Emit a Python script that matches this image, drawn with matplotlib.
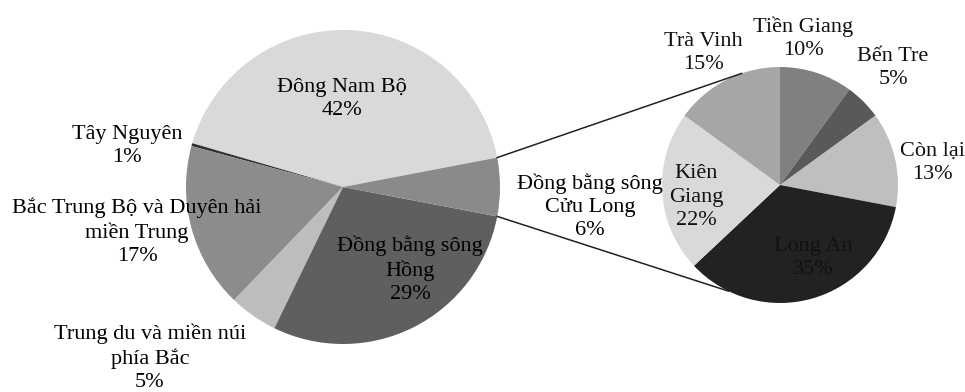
import matplotlib.pyplot as plt
import numpy as np

plt.rcParams['font.family'] = ['Liberation Serif', 'DejaVu Serif']

# Main pie: regions (counterclockwise from the split-out slice)
regions = ["Đông Nam Bộ", "Tây Nguyên", "Bắc Trung Bộ và Duyên hải\nmiền Trung",
           "Trung du và miền núi\nphía Bắc", "Đồng bằng sông\nHồng", "Đồng bằng sông\nCửu Long"]
region_share = [42.5, 0.3, 17.0, 5.0, 29.2, 6.0]
region_pct = [42, 1, 17, 5, 29, 6]
region_colors = ["#d9d9d9", "#303030", "#8c8c8c", "#bdbdbd", "#5f5f5f", "#8a8a8a"]

# Secondary pie: provinces of Đồng bằng sông Cửu Long (clockwise from top)
provinces = ["Tiền Giang", "Bến Tre", "Còn lại", "Long An", "Kiên\nGiang", "Trà Vinh"]
province_share = [10, 5, 13, 35, 22, 15]
province_colors = ["#808080", "#595959", "#bfbfbf", "#222222", "#d9d9d9", "#a6a6a6"]

W, H = 965, 392
fig = plt.figure(figsize=(W / 100, H / 100), dpi=100)
ax = fig.add_axes([0, 0, 1, 1])

# pixel-like coordinates, y measured upward
c1, r1 = (343, H - 187), 157
c2, r2 = (780, H - 185), 118

start1 = region_share[-1] / 100 * 360 / 2
w1, _ = ax.pie(region_share, colors=region_colors, startangle=start1, counterclock=True,
               center=c1, radius=r1, wedgeprops=dict(linewidth=0))
w2, _ = ax.pie(province_share, colors=province_colors, startangle=90, counterclock=False,
               center=c2, radius=r2, wedgeprops=dict(linewidth=0))

ax.set_xlim(0, W)
ax.set_ylim(0, H)
ax.set_aspect("equal")
ax.axis("off")

# connector lines from the split slice to the secondary pie
split = w1[-1]
a_top, a_bot = np.deg2rad(split.theta2), np.deg2rad(split.theta1)
p_top = (c1[0] + r1 * np.cos(a_top), c1[1] + r1 * np.sin(a_top))
p_bot = (c1[0] + r1 * np.cos(a_bot), c1[1] + r1 * np.sin(a_bot))
q_top = (c2[0] + r2 * np.cos(np.deg2rad(109)), c2[1] + r2 * np.sin(np.deg2rad(109)))
q_bot = (c2[0] + r2 * np.cos(np.deg2rad(-116)), c2[1] + r2 * np.sin(np.deg2rad(-116)))
ax.plot([p_top[0], q_top[0]], [p_top[1], q_top[1]], color="#222222", lw=1.1)
ax.plot([p_bot[0], q_bot[0]], [p_bot[1], q_bot[1]], color="#222222", lw=1.1)

# label positions (pixel, from top)
region_pos = [(342, 99), (127, 146), (137, 232), (150, 358), (410, 270), (590, 207)]
province_pos = [(803, 38), (893, 68), (932, 163), (813, 258), (696, 197), (703, 53)]

for name, val, (x, y) in zip(regions, region_pct, region_pos):
    ax.text(x, H - y, f"{name}\n{val}%", ha="center", va="center", fontsize=16,
            linespacing=1.3, color="black")
for name, val, (x, y) in zip(provinces, province_share, province_pos):
    ax.text(x, H - y, f"{name}\n{val}%", ha="center", va="center", fontsize=16,
            linespacing=1.3, color="#111111")

fig.savefig("out.png", dpi=100)
